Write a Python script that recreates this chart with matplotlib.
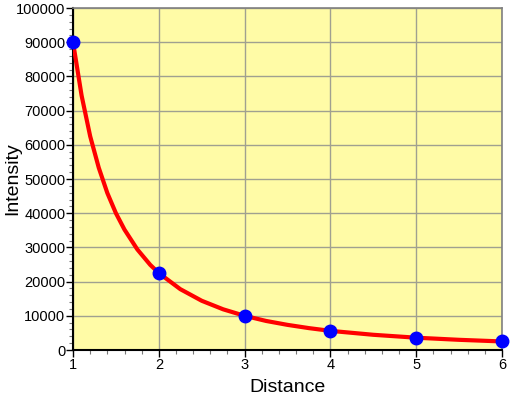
import matplotlib.pyplot as plt
from matplotlib.ticker import MultipleLocator

# measured points
distance = [1, 2, 3, 4, 5, 6]
intensity = [90000, 22500, 10000, 5600, 3600, 2500]

# red curve, values
curve_d = [1.0, 1.1, 1.2, 1.3, 1.4, 1.5, 1.6, 1.75, 1.9, 2.0, 2.25, 2.5, 2.75,
           3.0, 3.25, 3.5, 3.75, 4.0, 4.5, 5.0, 5.5, 6.0]
curve_i = [90000, 74400, 62500, 53300, 45900, 40000, 35200, 29400, 24900,
           22500, 17800, 14400, 11900, 10000, 8500, 7350, 6400, 5600, 4450,
           3600, 2980, 2500]

plt.rcParams['font.family'] = ['Liberation Sans', 'DejaVu Sans']

fig = plt.figure(figsize=(5.11, 3.95), dpi=100)
ax = fig.add_axes([0.1429, 0.1139, 0.8395, 0.8658])
ax.set_facecolor('#fffba6')

ax.plot(curve_d, curve_i, color='#ff0000', lw=3, zorder=3)
ax.plot(distance, intensity, 'o', color='#0000ff', ms=9, clip_on=False, zorder=4)

ax.set_xlim(1, 6)
ax.set_ylim(0, 100000)
ax.xaxis.set_major_locator(MultipleLocator(1))
ax.xaxis.set_minor_locator(MultipleLocator(0.2))
ax.yaxis.set_major_locator(MultipleLocator(10000))
ax.yaxis.set_minor_locator(MultipleLocator(2000))
ax.grid(True, which='major', color='#a0a090', lw=1)
ax.set_axisbelow(True)

ax.tick_params(which='major', direction='out', length=5, width=1, labelsize=10.5, pad=0.5)
ax.tick_params(which='minor', direction='out', length=3, width=0.8, color='#777777')
ax.tick_params(axis='y', which='both', right=False)
ax.tick_params(axis='x', which='both', top=False)

for side in ['left', 'bottom']:
    ax.spines[side].set_linewidth(1.5)
    ax.spines[side].set_color('black')
for side in ['right', 'top']:
    ax.spines[side].set_linewidth(1.2)
    ax.spines[side].set_color('#808080')

ax.set_xlabel('Distance', fontsize=14)
ax.set_ylabel('Intensity', fontsize=14)
ax.xaxis.set_label_coords(0.5, -0.085)
ax.yaxis.set_label_coords(-0.12, 0.5)

fig.savefig('out.png', dpi=100)
